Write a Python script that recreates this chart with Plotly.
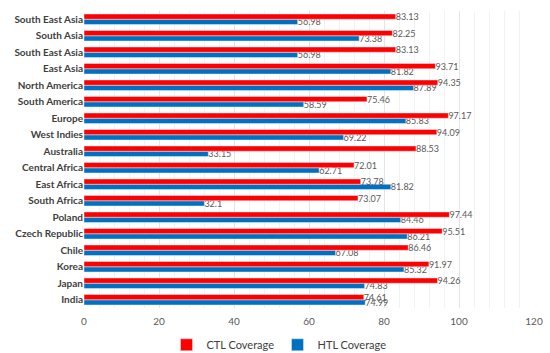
import plotly.graph_objects as go

categories = ["India", "Japan", "Korea", "Chile", "Czech Republic", "Poland",
              "South Africa", "East Africa", "Central Africa", "Australia",
              "West Indies", "Europe", "South America", "North America",
              "East Asia", "South East Asia", "South Asia", "South East Asia"]
ctl = [74.61, 94.26, 91.97, 86.46, 95.51, 97.44, 73.07, 73.78, 72.01, 88.53,
       94.09, 97.17, 75.46, 94.35, 93.71, 83.13, 82.25, 83.13]
htl = [74.99, 74.83, 85.32, 67.08, 86.21, 84.46, 32.1, 81.82, 62.71, 33.15,
       69.22, 85.83, 58.59, 87.89, 81.82, 56.98, 73.38, 56.98]
x_ticks = [0, 20, 40, 60, 80, 100, 120]

pos = list(range(len(categories)))

fig = go.Figure()
fig.add_trace(go.Bar(y=pos, x=htl, orientation="h", name="HTL Coverage",
                     marker_color="#0070C0", text=[str(v) for v in htl],
                     textposition="outside", cliponaxis=False,
                     textfont=dict(size=9, color="#595959"), legendrank=2))
fig.add_trace(go.Bar(y=pos, x=ctl, orientation="h", name="CTL Coverage",
                     marker_color="#FF0000", text=[str(v) for v in ctl],
                     textposition="outside", cliponaxis=False,
                     textfont=dict(size=9, color="#595959"), legendrank=1))

fig.update_layout(
    width=550, height=353,
    margin=dict(l=84, r=16, t=11, b=45, autoexpand=False),
    barmode="group", bargap=0.36, bargroupgap=0,
    plot_bgcolor="white", paper_bgcolor="white",
    font=dict(family="Lato", color="#404040"),
    legend=dict(orientation="h", x=0.43, xanchor="center", y=-0.075, yanchor="top",
                font=dict(size=11, color="#404040"), traceorder="normal",
                itemwidth=30, entrywidth=66),
    uniformtext=dict(minsize=7, mode="show"),
)
fig.update_xaxes(range=[0, 120], tickvals=x_ticks, showgrid=True,
                 gridcolor="#e4e4e4", zeroline=False, automargin=False,
                 minor=dict(dtick=4, showgrid=True, gridcolor="#f2f2f2"),
                 tickfont=dict(size=10, color="#595959"), ticklabelstandoff=6)
fig.update_yaxes(tickvals=pos, ticktext=["<b>%s</b>" % c for c in categories],
                 range=[-0.5, len(categories) - 0.5], showgrid=False, automargin=False,
                 tickfont=dict(size=10, color="#404040"), ticks="", ticklen=4)

fig.write_html("out.html", config={"displayModeBar": False},
               post_script="document.body.style.margin='0';document.body.style.overflow='hidden';")
